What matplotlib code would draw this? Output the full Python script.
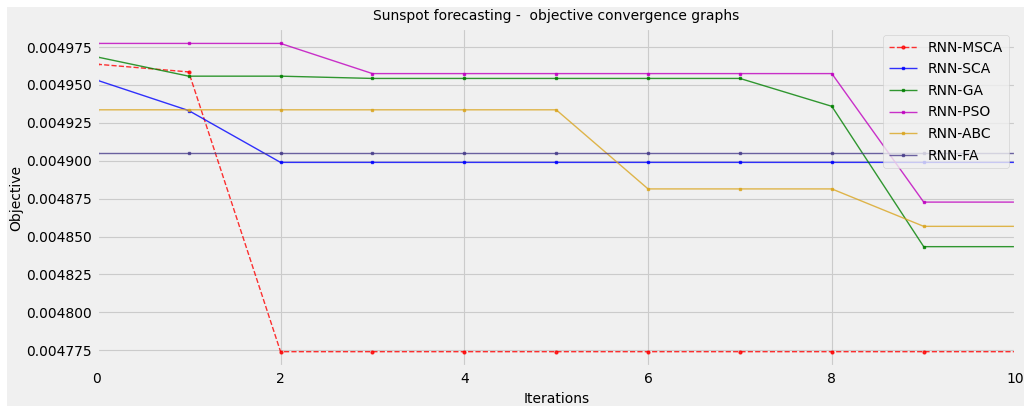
import numpy as np
import matplotlib.pyplot as plt

iterations = np.arange(0, 11)

rnn_msca = [0.0049637, 0.0049586] + [0.0047740] * 9
rnn_sca = [0.0049532, 0.0049331] + [0.0048989] * 9
rnn_ga = [0.0049685, 0.0049558, 0.0049558] + [0.0049543] * 5 + [0.0049359, 0.0048433, 0.0048433]
rnn_pso = [0.0049774] * 3 + [0.0049575] * 6 + [0.0048727] * 2
rnn_abc = [0.0049336] * 6 + [0.0048814] * 3 + [0.0048567] * 2
rnn_fa = [0.0049052] * 11

series = [
    ('RNN-MSCA', rnn_msca, 'red', '--', 'o'),
    ('RNN-SCA', rnn_sca, 'blue', '-', 's'),
    ('RNN-GA', rnn_ga, 'green', '-', 's'),
    ('RNN-PSO', rnn_pso, 'm', '-', 's'),
    ('RNN-ABC', rnn_abc, 'goldenrod', '-', 's'),
    ('RNN-FA', rnn_fa, 'darkslateblue', '-', 's'),
]

plt.style.use('fivethirtyeight')
plt.rcParams['font.family'] = ['DejaVu Sans']

fig = plt.figure(figsize=(10.3, 4.12), dpi=100, facecolor='#f0f0f0',
                 edgecolor='white', linewidth=8)
ax = fig.add_axes([0.094, 0.109, 0.892, 0.823])

for name, vals, color, ls, mk in series:
    ax.plot(iterations, vals, color=color, linestyle=ls, marker=mk,
            markersize=2, linewidth=1, alpha=0.8, label=name)

ax.set_xlim(0, 10)
ax.set_xticks([0, 2, 4, 6, 8, 10])
ax.tick_params(labelsize=10)
ax.grid(True, color='#cbcbcb', linewidth=0.8)
ax.set_title('Sunspot forecasting -  objective convergence graphs', fontsize=10)
ax.set_xlabel('Iterations', fontsize=10)
ax.set_ylabel('Objective', fontsize=10, labelpad=2)
ax.legend(loc='upper right', fontsize=10, frameon=True, labelspacing=0.55)

fig.savefig('out.png', dpi=100, facecolor=fig.get_facecolor(), edgecolor='white')
